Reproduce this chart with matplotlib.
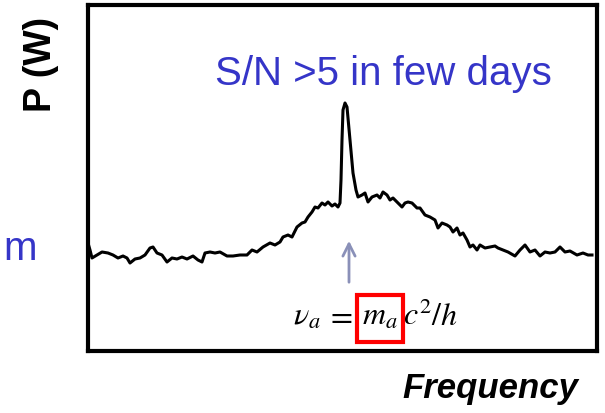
import matplotlib.pyplot as plt
from matplotlib.patches import Rectangle

# trace (frequency in arbitrary units, power in arbitrary units)
freq = [88, 90, 92, 97, 102, 108, 113, 118, 123, 127, 130, 135, 140, 145, 150, 153,
        157, 162, 167, 172, 177, 182, 187, 193, 198, 202, 205, 210, 215, 220, 227, 233,
        240, 247, 252, 257, 263, 270, 275, 280, 283, 288, 292, 297, 302, 305, 308, 312,
        315, 318, 322, 325, 328, 332, 335, 338, 340, 341, 342, 343, 345, 347, 350, 353,
        356, 358, 362, 365, 368, 372, 377, 380, 383, 387, 390, 393, 397, 402, 405, 408,
        412, 417, 420, 425, 430, 435, 438, 442, 447, 450, 453, 457, 460, 463, 467, 470,
        473, 477, 480, 485, 490, 495, 498, 503, 508, 515, 520, 525, 530, 535, 540, 545,
        550, 555, 560, 565, 570, 577, 583, 588, 592]
power = [108, 101, 93, 96, 99, 98, 96, 93, 95, 93, 88, 92, 93, 96, 103, 104,
         98, 96, 89, 93, 92, 94, 92, 95, 91, 89, 98, 99, 98, 99, 95, 95,
         96, 96, 101, 99, 104, 108, 106, 109, 114, 116, 114, 124, 128, 129, 134, 139,
         144, 143, 148, 146, 149, 145, 147, 144, 148, 171, 211, 241, 248, 244, 211, 178,
         161, 154, 156, 158, 149, 154, 156, 153, 159, 156, 151, 153, 149, 144, 148, 149,
         148, 143, 143, 136, 134, 131, 123, 128, 126, 124, 119, 123, 116, 118, 111, 104,
         106, 101, 106, 103, 104, 105, 103, 101, 99, 95, 101, 106, 99, 101, 95, 99,
         98, 99, 104, 99, 100, 96, 98, 96, 96]

title_txt = 'S/N >5 in few days'
ylabel_txt = 'P (W)'
xlabel_txt = 'Frequency'
side_txt = 'm'
# equation pieces and where each one starts along the frequency axis
eq_parts = [r'$\nu_a$', r'$=$', r'$m_a$', r'$c^2$', r'$/h$']
eq_x = [293, 326, 362, 403, 431]

W, H = 605, 413
blue = '#3535c8'

plt.rcParams['font.family'] = ['Liberation Sans', 'DejaVu Sans']
plt.rcParams['mathtext.fontset'] = 'stix'

fig = plt.figure(figsize=(W / 100, H / 100), dpi=100)
ax = fig.add_axes([88 / W, (H - 351) / H, 509 / W, 346 / H])
ax.plot(freq, power, color='black', lw=2.2)
ax.set_xlim(88, 597)
ax.set_ylim(0, 346)
ax.set_xticks([])
ax.set_yticks([])
for s in ax.spines.values():
    s.set_linewidth(3)

# arrow pointing at the peak
ax.annotate('', xy=(349, 113), xytext=(349, 66),
            arrowprops=dict(arrowstyle='->', color='#8a90b8', lw=2, mutation_scale=22))
for txt, x in zip(eq_parts, eq_x):
    ax.text(x, 26, txt, fontsize=23, ha='left', va='baseline')
ax.add_patch(Rectangle((357, 9), 46, 47, fill=False, ec='red', lw=3))

fig.text(215 / W, (H - 85) / H, title_txt, fontsize=29, color=blue, ha='left', va='baseline')
fig.text(3 / W, (H - 260) / H, side_txt, fontsize=29, color=blue, ha='left', va='baseline')
fig.text(41 / W, (H - 64) / H, ylabel_txt, fontsize=27, fontweight='bold', rotation=90,
         ha='center', va='center')
fig.text(402 / W, (H - 398) / H, xlabel_txt, fontsize=25, fontweight='bold', style='italic',
         ha='left', va='baseline')

fig.savefig('out.png', dpi=100)
